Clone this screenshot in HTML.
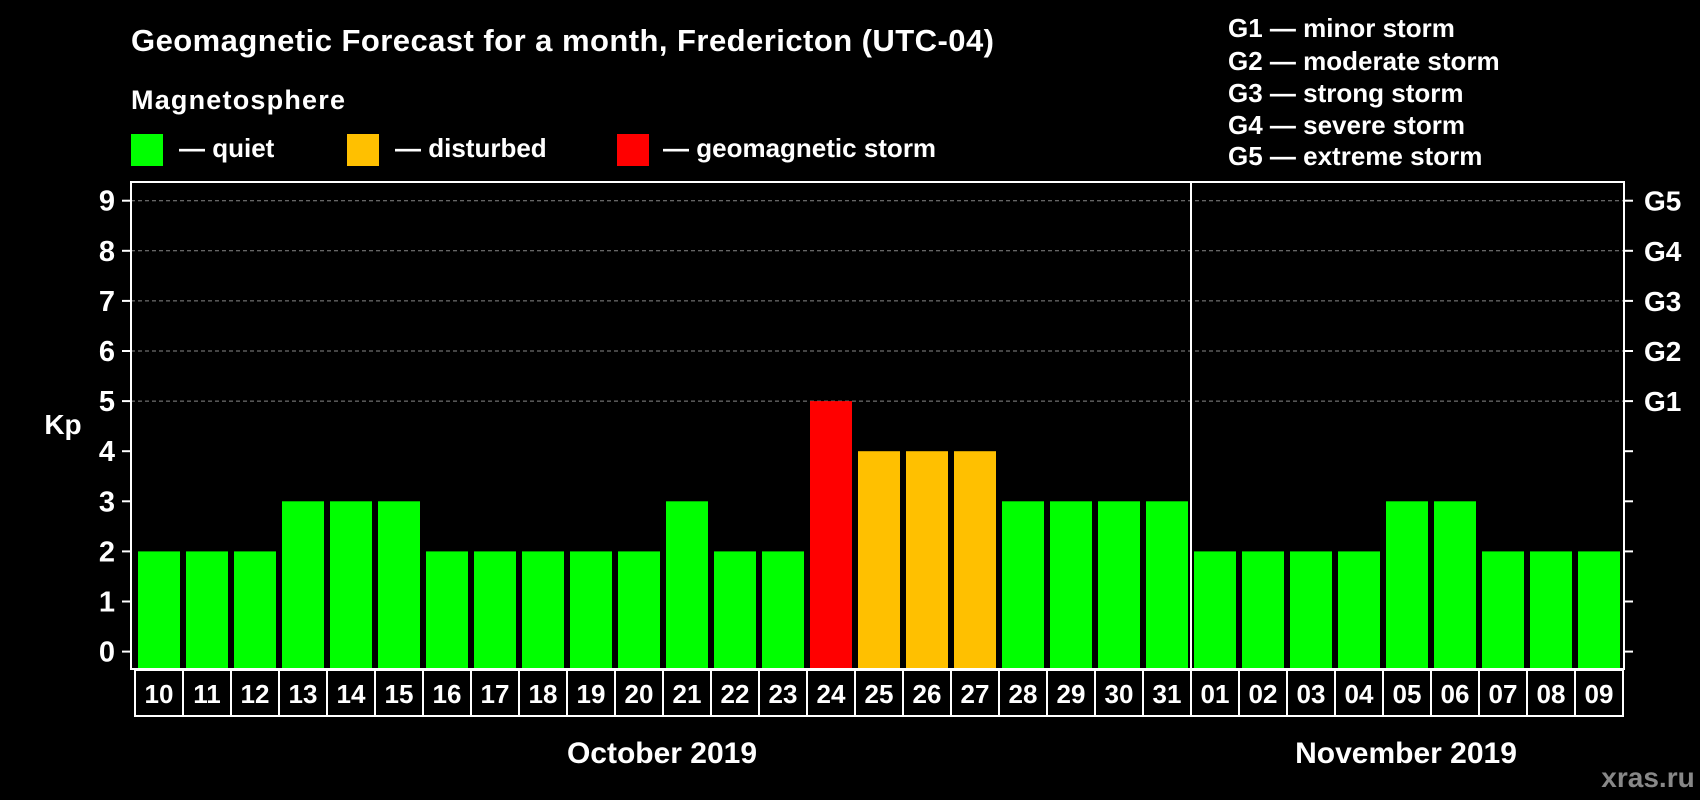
<!DOCTYPE html>
<html><head><meta charset="utf-8"><style>
html,body{margin:0;padding:0;background:#000;}
svg{display:block;font-family:"Liberation Sans",Arial,sans-serif;font-weight:bold;}
</style></head><body>
<svg id="chart" width="1700" height="800" viewBox="0 0 1700 800">
<rect x="0" y="0" width="1700" height="800" fill="#000"/>
<text x="131" y="51" font-size="31" fill="#fff" textLength="863">Geomagnetic Forecast for a month, Fredericton (UTC-04)</text>
<text x="131" y="109" font-size="27" fill="#fff" textLength="214">Magnetosphere</text>
<g><rect x="131" y="134" width="32" height="32" fill="#00ff00"/><text x="179" y="157" font-size="26" fill="#fff">— quiet</text></g>
<g><rect x="347" y="134" width="32" height="32" fill="#ffc000"/><text x="395" y="157" font-size="26" fill="#fff">— disturbed</text></g>
<g><rect x="617" y="134" width="32" height="32" fill="#ff0000"/><text x="663" y="157" font-size="26" fill="#fff">— geomagnetic storm</text></g>
<g font-size="26" fill="#fff">
<text x="1228" y="37">G1 — minor storm</text>
<text x="1228" y="70">G2 — moderate storm</text>
<text x="1228" y="102">G3 — strong storm</text>
<text x="1228" y="134">G4 — severe storm</text>
<text x="1228" y="165">G5 — extreme storm</text>
</g>
<text x="63" y="434" font-size="28" fill="#fff" text-anchor="middle">Kp</text>
<g id="grid"></g><g id="bars"></g><g id="axes"></g><g id="labels"></g>
<text x="662" y="763" font-size="30" fill="#fff" text-anchor="middle">October 2019</text>
<text x="1406" y="763" font-size="30" fill="#fff" text-anchor="middle">November 2019</text>
<text x="1648" y="787" font-size="28" fill="#888" text-anchor="middle">xras.ru</text>
</svg>
<script>
const days=["10","11","12","13","14","15","16","17","18","19","20","21","22","23","24","25","26","27","28","29","30","31","01","02","03","04","05","06","07","08","09"];
const kp=[2,2,2,3,3,3,2,2,2,2,2,3,2,2,5,4,4,4,3,3,3,3,2,2,2,2,3,3,2,2,2];
const yTicks=[0,1,2,3,4,5,6,7,8,9];
const gLabels=["G1","G2","G3","G4","G5"];
const NS="http://www.w3.org/2000/svg";
const L=131,R=1624,T=182,B=669,y0=651.6,unit=50.1,pitch=48,bx0=138,bw=42;
const y=v=>y0-v*unit, x=i=>bx0+i*pitch;
function mk(tag,attrs,parent){const e=document.createElementNS(NS,tag);for(const k in attrs)e.setAttribute(k,attrs[k]);parent.appendChild(e);return e;}
const grid=document.getElementById('grid'),bars=document.getElementById('bars'),axes=document.getElementById('axes'),labels=document.getElementById('labels');
yTicks.forEach(v=>{
 if(v>=5){const g=mk('line',{x1:L,x2:R,y1:y(v),y2:y(v),stroke:'#888','stroke-dasharray':'4,3','stroke-width':1},grid);
 
 }
 const t=mk('line',{x1:L-9,x2:L,y1:y(v),y2:y(v),stroke:'#fff','stroke-width':2},axes);
 
 
 const t2=mk('line',{x1:R,x2:R+9,y1:y(v),y2:y(v),stroke:'#fff','stroke-width':2},axes);
 
 
 const tl=mk('text',{x:107,y:y(v)+10,'font-size':29,fill:'#fff','text-anchor':'middle'},axes);tl.textContent=v;
 
 
});
gLabels.forEach((g,i)=>{const t=mk('text',{x:1644,y:y(5+i)+10,'font-size':28,fill:'#fff'},axes);t.textContent=g;
 
 });
kp.forEach((v,i)=>{
 const c=v>=5?'#ff0000':(v>=4?'#ffc000':'#00ff00');
 const r=mk('rect',{x:x(i),y:y(v),width:bw,height:B-y(v),fill:c},bars);
 
 
});
const fr=mk('rect',{x:L,y:T,width:R-L,height:B-T,fill:'none',stroke:'#fff','stroke-width':2},axes);


const div=mk('line',{x1:x(22)-3,x2:x(22)-3,y1:T,y2:B,stroke:'#fff','stroke-width':2},axes);


days.forEach((d,i)=>{
 const cx=135+i*pitch;
 const b=mk('rect',{x:cx,y:B+1,width:pitch,height:46,fill:'none',stroke:'#fff','stroke-width':2},labels);
 
 
 const t=mk('text',{x:cx+pitch/2,y:B+34,'font-size':26,fill:'#fff','text-anchor':'middle'},labels);t.textContent=d;
 
 
});
</script>
</body></html>
